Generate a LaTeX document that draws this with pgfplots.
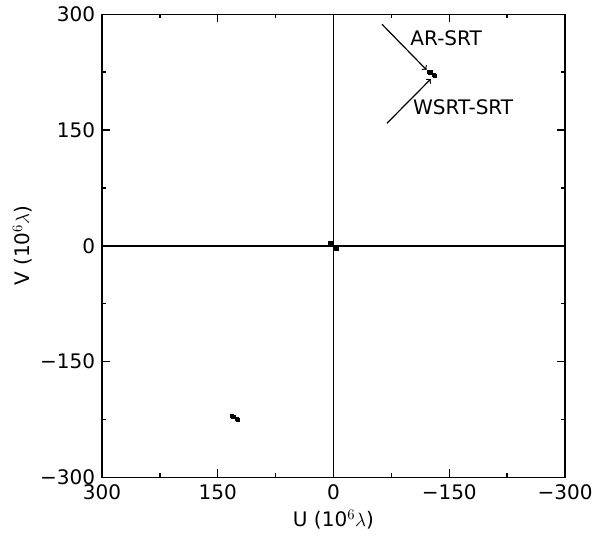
\documentclass[border=0pt]{standalone}
\usepackage{pgfplots}
\pgfplotsset{compat=1.18}
\usepackage{fontspec}
\setmainfont{DejaVu Sans}
\begin{document}
\fontsize{15pt}{18pt}\selectfont
\begin{tikzpicture}
\begin{axis}[
  scale only axis, width=347pt, height=347pt,
  xmin=-300, xmax=300, ymin=-300, ymax=300,
  x dir=reverse,
  xtick={-300,-150,0,150,300},
  xticklabels={−300,−150,0,150,300},
  ytick={-300,-150,0,150,300},
  yticklabels={−300,−150,0,150,300},
  minor xtick={-225,-75,75,225},
  minor ytick={-225,-75,75,225},
  tick align=inside,
  major tick length=6pt, minor tick length=3pt,
  every tick/.style={black, line width=1pt},
  axis line style={line width=1.1pt},
  xlabel={U (10$^6\lambda$)},
  ylabel={V (10$^6\lambda$)},
  tick label style={font=\fontsize{15pt}{18pt}\selectfont},
  label style={font=\fontsize{15pt}{18pt}\selectfont},
  xlabel style={yshift=2pt},
  ylabel style={yshift=-4pt},
  clip=false,
]
\path (rel axis cs:-0.2203,1.026) -- (rel axis cs:1.0907,-0.1274);
\draw[line width=1.3pt] (axis cs:0,-300) -- (axis cs:0,300);
\draw[line width=1.2pt] (axis cs:-300,0) -- (axis cs:300,0);
\addplot[only marks, mark=square*, mark size=1.3pt, black] coordinates {
  (-124,225.5) (-125.5,224.5) (-130,221.5) (-131.5,220.5)
  (124,-225.5) (125.5,-224.5) (130,-221.5) (131.5,-220.5)
  (4,3.2) (-3.5,-3.5)
};
\draw[-to, line width=0.9pt] (axis cs:-62.8,287) -- (axis cs:-120.5,228);
\draw[-to, line width=0.9pt] (axis cs:-69.3,158.7) -- (axis cs:-126,216);
\node at (axis cs:-146,269) {AR-SRT};
\node at (axis cs:-168,179.5) {WSRT-SRT};
\end{axis}
\end{tikzpicture}
\end{document}
